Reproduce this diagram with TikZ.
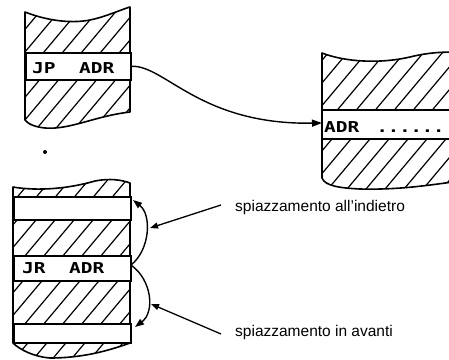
\documentclass[tikz,border=0pt]{standalone}
\usepackage{fontspec}
\setmainfont{Liberation Sans}
\newfontfamily\codefont[FakeStretch=1.3]{DejaVu Sans Mono Bold}
\newfontfamily\dotfont[FakeStretch=1.25]{DejaVu Sans Mono Bold}
\usetikzlibrary{arrows.meta}

\tikzset{
  outline/.style={line width=1.6pt, line join=round},
  hatchline/.style={line width=1.2pt},
  band/.style={draw, line width=1.6pt, fill=white, rectangle, inner sep=0pt},
  code/.style={font=\codefont\fontsize{15}{18}\selectfont, anchor=base west, inner sep=0pt},
  label/.style={font=\fontsize{15.5}{18}\selectfont, anchor=base west, inner xsep=14pt, inner ysep=0pt},
  jump/.style={line width=1.4pt, -{Triangle[length=10pt,width=7pt]}},
  offset/.style={line width=1.4pt, -{Triangle[length=9pt,width=6.5pt]}},
  leader/.style={line width=1.3pt, -{Triangle[length=8pt,width=6pt]}},
}

% diagonal hatching, clipped by the caller
\newcommand{\hatchfill}{%
  \foreach \hx in {-400,-381,...,460} {
    \draw[hatchline] (\hx,400) -- ++(335.6,-400);
  }%
}

\begin{document}
\begin{tikzpicture}[x=1pt,y=-1pt]
\useasboundingbox (0,0) rectangle (449,359);

% ---------- memory block with JP ----------
\def\blockA{(25,12) .. controls (45,20) and (70,24) .. (90,20)
  .. controls (105,17) and (120,10) .. (130,7) -- (130,112)
  .. controls (95,116) and (70,130) .. (45,128)
  .. controls (35,127) and (28,124) .. (25,120) -- cycle}
\begin{scope}
  \clip \blockA;
  \hatchfill
\end{scope}
\draw[outline] \blockA;
\node[band, minimum width=105pt, minimum height=27pt, anchor=north west] (jp) at (25,52) {};
\node[code] (jptxt) at (32,73) {JP\ \ ADR};

% ---------- target block ----------
\def\blockB{(322,53) .. controls (345,62) and (380,64) .. (410,57)
  .. controls (430,52) and (445,52) .. (460,52) -- (460,181)
  .. controls (430,185) and (400,190) .. (360,189)
  .. controls (340,188) and (325,186) .. (322,178) -- cycle}
\begin{scope}
  \clip \blockB;
  \hatchfill
\end{scope}
\draw[outline] (460,52) .. controls (445,52) and (430,52) .. (410,57)
  .. controls (380,64) and (345,62) .. (322,53) -- (322,178)
  .. controls (325,186) and (340,188) .. (360,189)
  .. controls (400,190) and (430,185) .. (460,181);
\fill[white] (322,110) rectangle (460,139);
\draw[outline] (460,110) -- (322,110) -- (322,139) -- (460,139);
\coordinate (adr) at (322,123);
\node[code] (adrtxt) at (324,132) {ADR};
\node[code, font=\dotfont\fontsize{15}{18}\selectfont] (adrdots) at (376.5,132) {......};

% isolated dot
\fill (45,152) circle (2pt);

% ---------- memory block with JR ----------
\def\blockC{(13,187) .. controls (30,190) and (60,191) .. (95,181)
  .. controls (110,178) and (122,180) .. (130,183) -- (130,343)
  .. controls (105,352) and (80,358) .. (50,358)
  .. controls (35,357) and (20,350) .. (13,343) -- cycle}
\begin{scope}
  \clip \blockC;
  \hatchfill
\end{scope}
\draw[outline] \blockC;
\node[band, minimum width=117pt, minimum height=23pt, anchor=north west] (b1) at (13,196) {};
\node[band, minimum width=117pt, minimum height=25pt, anchor=north west] (jr) at (13,255) {};
\node[band, minimum width=117pt, minimum height=19pt, anchor=north west] (b3) at (13,323) {};
\node[code] (jrtxt) at (22,273) {JR\ \ ADR};

% ---------- jump connector ----------
\draw[jump] (jp.east) .. controls (165,65) and (200,125) .. (adr);

% ---------- relative offsets ----------
\coordinate (jrend) at (131,265);
\coordinate (back) at (133,200);
\coordinate (fwd) at (135,327);
\draw[offset] (jrend) .. controls (150,250) and (152,215) .. (back);
\draw[offset] (jrend) .. controls (152,280) and (155,312) .. (fwd);

% ---------- labels ----------
\node[label] (lback) at (221,211) {spiazzamento all'indietro};
\node[label] (lfwd) at (221,336) {spiazzamento in avanti};
\coordinate (onback) at (150,228);
\coordinate (onfwd) at (151,304);
\draw[leader] ([yshift=2pt]lback.west) -- (onback);
\draw[leader] ([yshift=-2pt]lfwd.west) -- (onfwd);
\end{tikzpicture}
\end{document}
